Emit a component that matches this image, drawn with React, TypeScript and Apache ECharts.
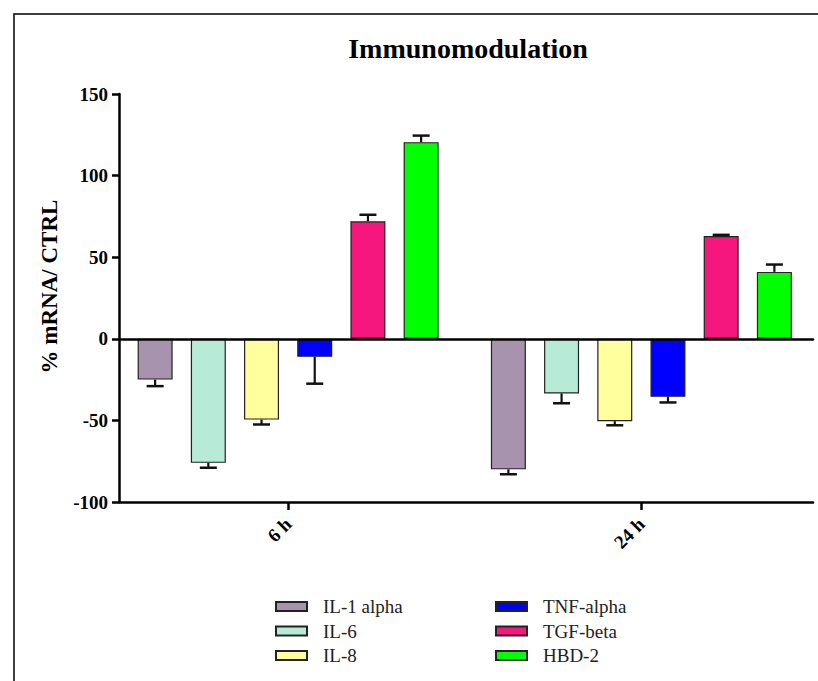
import React, { useEffect, useRef } from "react";
import * as echarts from "echarts";

const categories = ["6 h", "24 h"];
const seriesNames = ["IL-1 alpha", "IL-6", "IL-8", "TNF-alpha", "TGF-beta", "HBD-2"];
const seriesColors = ["#A793AD", "#B8EAD8", "#FFFF9E", "#0000FF", "#F5177E", "#00FF00"];
// mean values per series: [6 h, 24 h]
const il1Alpha = [-25, -80];
const il6 = [-76, -33.5];
const il8 = [-49.5, -50.5];
const tnfAlpha = [-11, -35.5];
const tgfBeta = [72, 63];
const hbd2 = [120.5, 41];
// error (SEM) per series: [6 h, 24 h]
const il1AlphaErr = [4, 3];
const il6Err = [3, 6];
const il8Err = [3, 2.5];
const tnfAlphaErr = [16.5, 3.5];
const tgfBetaErr = [4, 0.7];
const hbd2Err = [4, 4.5];

const yTicksMin = -100;
const yTicksMax = 150;
const yTickStep = 50;

const means = [il1Alpha, il6, il8, tnfAlpha, tgfBeta, hbd2];
const errs = [il1AlphaErr, il6Err, il8Err, tnfAlphaErr, tgfBetaErr, hbd2Err];

const BAR_W = 35;
const BAR_GAP = 0.52;
const FONT = "'Liberation Serif', 'Times New Roman', serif";

export default function App() {
  const ref = useRef<HTMLDivElement>(null);
  useEffect(() => {
    if (!ref.current) return;
    const chart = echarts.init(ref.current, null, { renderer: "svg" });
    const pitch = BAR_W * (1 + BAR_GAP);
    const errData: number[][] = [];
    means.forEach((arr, s) => {
      arr.forEach((v, c) => errData.push([c, s, v, errs[s][c]]));
    });
    const barSeries = seriesNames.map((name, s) => ({
      name,
      type: "bar",
      xAxisIndex: 0,
      yAxisIndex: 0,
      barWidth: BAR_W,
      barGap: BAR_GAP * 100 + "%",
      data: means[s],
      itemStyle: { color: seriesColors[s], borderColor: "#222", borderWidth: 1.2 },
      z: 2,
    }));
    const legendBase = {
      orient: "vertical",
      top: 597,
      icon: "rect",
      padding: 0,
      itemWidth: 31,
      itemHeight: 9,
      itemGap: 5.5,
      textStyle: { fontFamily: FONT, fontSize: 19, color: "#222", padding: [0, 0, 0, 11] },
    };
    const option: any = {
      animation: false,
      backgroundColor: "#fff",
      title: {
        text: "Immunomodulation",
        left: 463,
        top: 29,
        textAlign: "center",
        textStyle: { fontFamily: FONT, fontWeight: "bold", fontSize: 28, color: "#000" },
      },
      legend: [
        { ...legendBase, data: seriesNames.slice(0, 3), left: 275 },
        { ...legendBase, data: seriesNames.slice(3), left: 495 },
      ],
      grid: [
        { left: 111.5, right: -3.5, top: 94, bottom: 179 },
        { left: 119, right: 5, top: 94, bottom: 179 },
      ],
      xAxis: [
        {
          type: "category",
          gridIndex: 0,
          data: categories,
          position: "bottom",
          axisLine: { show: false, onZero: false },
          axisTick: { show: true, alignWithLabel: true, length: 8, lineStyle: { color: "#000", width: 2.5 } },
          axisLabel: {
            rotate: 45,
            margin: 19,
            fontFamily: FONT,
            fontWeight: "bold",
            fontSize: 19,
            color: "#000",
          },
        },
        {
          type: "value",
          gridIndex: 1,
          min: 0,
          max: 1,
          position: "bottom",
          axisLine: { show: true, onZero: false, lineStyle: { color: "#000", width: 2.5 } },
          axisTick: { show: false },
          axisLabel: { show: false },
          splitLine: { show: false },
        },
        {
          type: "value",
          gridIndex: 1,
          min: 0,
          max: 1,
          position: "top",
          z: 5,
          axisLine: { show: true, onZero: true, lineStyle: { color: "#000", width: 2.5 } },
          axisTick: { show: false },
          axisLabel: { show: false },
          splitLine: { show: false },
        },
      ],
      yAxis: [
        {
          type: "value",
          gridIndex: 0,
          min: yTicksMin,
          max: yTicksMax,
          interval: yTickStep,
          show: false,
        },
        {
          type: "value",
          gridIndex: 1,
          min: yTicksMin,
          max: yTicksMax,
          interval: yTickStep,
          position: "left",
          name: "% mRNA/ CTRL",
          nameLocation: "middle",
          nameRotate: 90,
          nameGap: 58,
          nameTextStyle: {
            fontFamily: FONT,
            fontWeight: "bold",
            fontSize: 23,
            color: "#000",
            padding: [0, 0, 0, 23],
          },
          axisLine: { show: true, lineStyle: { color: "#000", width: 2.5 } },
          axisTick: { show: true, length: 7, lineStyle: { color: "#000", width: 2.5 } },
          axisLabel: {
            margin: 11,
            fontFamily: FONT,
            fontWeight: "bold",
            fontSize: 19,
            color: "#000",
          },
          splitLine: { show: false },
        },
      ],
      graphic: [
        {
          type: "rect",
          shape: { x: 14, y: 14, width: 1000, height: 1000 },
          style: { fill: "none", stroke: "#000", lineWidth: 1.5 },
          silent: true,
        },
      ],
      series: [
        ...barSeries,
        {
          type: "custom",
          name: "errors",
          xAxisIndex: 0,
          yAxisIndex: 0,
          z: 3,
          data: errData,
          renderItem: (params: any, api: any) => {
            const c = api.value(0);
            const s = api.value(1);
            const m = api.value(2);
            const e = api.value(3);
            const end = m >= 0 ? m + e : m - e;
            const p0 = api.coord([c, m]);
            const p1 = api.coord([c, end]);
            const x = p0[0] + (s - 2.5) * pitch;
            const capHalf = 8.5;
            return {
              type: "group",
              children: [
                {
                  type: "line",
                  shape: { x1: x, y1: p0[1], x2: x, y2: p1[1] },
                  style: { stroke: "#111", lineWidth: 2.2 },
                },
                {
                  type: "line",
                  shape: { x1: x - capHalf, y1: p1[1], x2: x + capHalf, y2: p1[1] },
                  style: { stroke: "#111", lineWidth: 2.5 },
                },
              ],
            };
          },
        },
      ],
    };
    chart.setOption(option);
    return () => chart.dispose();
  }, []);
  return (
    <div
      ref={ref}
      style={{ position: "absolute", left: 0, top: 0, width: 818, height: 681, background: "#fff" }}
    />
  );
}
